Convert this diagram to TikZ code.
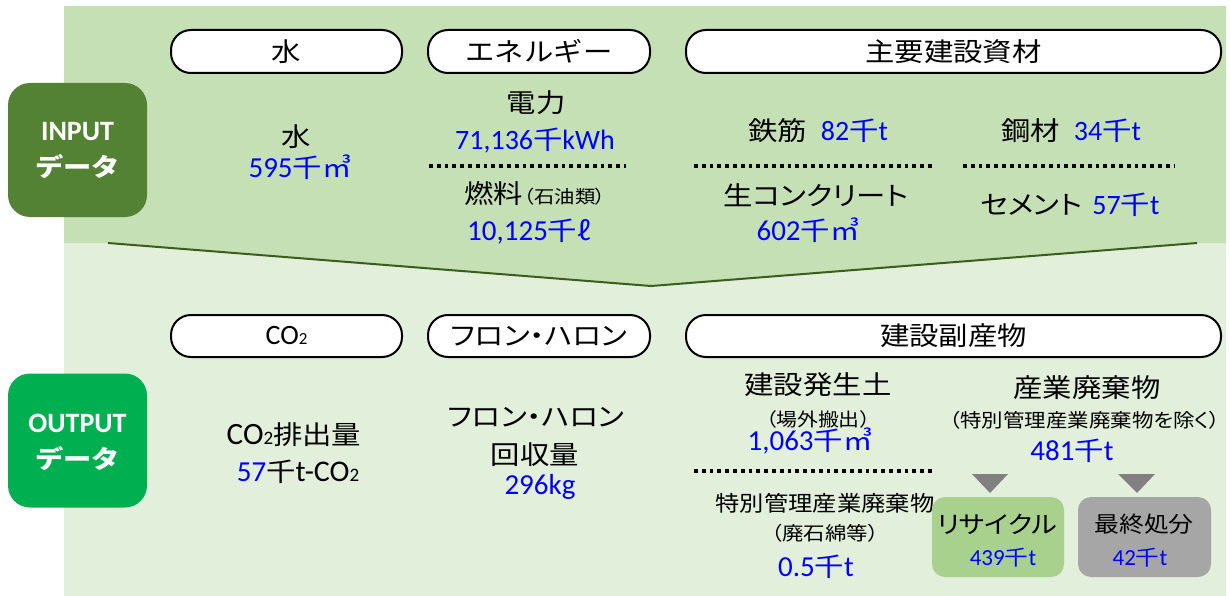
\documentclass[tikz,border=0pt]{standalone}
\usepackage{fontspec}
\setmainfont{Carlito}
\newfontfamily\jp{Noto Sans CJK JP}[FakeStretch=1.13]
\newfontfamily\jpk{Noto Sans CJK JP}[FakeStretch=1.13,RawFeature=+palt]
\newcommand\fs[1]{\fontsize{#1}{#1}\selectfont}
\newcommand\J[2]{{\jp\fs{#1}#2}}
\newcommand\K[2]{{\jpk\fs{#1}#2}}
\newcommand\Lt[2]{{\fs{#1}#2}}
\definecolor{upg}{HTML}{C5E0B4}
\definecolor{lowg}{HTML}{E2EFDA}
\definecolor{lineg}{HTML}{3B5E1F}
\definecolor{ing}{HTML}{548235}
\definecolor{outg}{HTML}{00B050}
\definecolor{recg}{HTML}{A9D18E}
\definecolor{disg}{HTML}{A6A6A6}
\definecolor{trig}{HTML}{808080}
\definecolor{vb}{HTML}{0000FF}
\tikzset{
  t/.style={inner sep=0pt, outer sep=0pt, anchor=center},
  bt/.style={t, text=vb},
  pill/.style={draw=black, fill=white, line width=2pt, rounded corners=20pt, inner sep=0pt},
  databox/.style={rounded corners=22pt, minimum width=139pt, minimum height=134pt, inner sep=0pt},
  resbox/.style={rounded corners=13pt, minimum width=132pt, minimum height=80pt, inner sep=0pt},
  dotline/.style={line width=3.5pt, dash pattern=on 3.8pt off 4pt},
  wt/.style={t, text=white, font=\bfseries}
}
\begin{document}
\begin{tikzpicture}[x=1pt,y=-1pt]
\useasboundingbox (0,0) rectangle (1230,596);
% backgrounds
\fill[lowg] (64,243) rectangle (1226,596);
\fill[upg] (64,6) -- (1226,6) -- (1226,243) -- (1197,243) -- (651,286) -- (108,243) -- (64,243) -- cycle;
\draw[lineg, line width=2pt] (108,243) -- (651,286) -- (1197,243);
% side boxes
\node[databox, fill=ing] (inbox) at (77.5,150) {};
\node[wt] (inl1) at (77.5,132) {\Lt{28}{INPUT}};
\node[wt] (inl2) at (77.5,167) {\J{25}{\bfseries データ}};
\node[databox, fill=outg] (outbox) at (77.5,440.5) {};
\node[wt] (outl1) at (77.5,423) {\Lt{28}{OUTPUT}};
\node[wt] (outl2) at (77.5,459) {\J{25}{\bfseries データ}};
% header pills (input)
\node[pill, minimum width=231pt, minimum height=43pt] (hwater) at (286.5,51.5) {\J{26}{水}};
\node[pill, minimum width=222pt, minimum height=43pt] (henergy) at (539,51.5) {\J{26}{エネルギー}};
\node[pill, minimum width=535pt, minimum height=43pt] (hmat) at (953.5,51.5) {\J{26}{主要建設資材}};
% header pills (output)
\node[pill, minimum width=231pt, minimum height=42pt] (hco2) at (286.5,336) {\Lt{28}{CO\Lt{17}{2}}};
\node[pill, minimum width=222pt, minimum height=42pt] (hfreon) at (539,336) {\K{26}{フロン・ハロン}};
\node[pill, minimum width=535pt, minimum height=42pt] (hbyp) at (953.5,336) {\J{26}{建設副産物}};
% input contents
\node[t] (water) at (296,137) {\J{26}{水}};
\node[bt] (waterv) at (300,167) {\Lt{29}{595}\J{26}{千㎥}};
\node[t] (elec) at (536,103) {\J{26}{電力}};
\node[bt] (elecv) at (535,141) {\Lt{28}{71,136}\J{26}{千}\Lt{28}{kWh}};
\draw[dotline] (429,166) -- (626,166);
\node[t] (fuel) at (535,194) {\J{26}{燃料}\hspace{1pt}\K{18}{（石油類）}};
\node[bt] (fuelv) at (529,232) {\Lt{29}{10,125}\J{26}{千ℓ}};
\node[t] (rebar) at (818,131) {\J{26}{鉄筋}\hspace{14pt}\textcolor{vb}{\Lt{28}{82}\J{26}{千}\Lt{28}{t}}};
\node[t] (steel) at (1071,131) {\J{26}{鋼材}\hspace{14pt}\textcolor{vb}{\Lt{28}{34}\J{26}{千}\Lt{28}{t}}};
\draw[dotline] (694,166) -- (934,166);
\draw[dotline] (963,166) -- (1174,166);
\node[t] (conc) at (816,195) {\K{26}{生コンクリート}};
\node[bt] (concv) at (808,230) {\Lt{29}{602}\J{26}{千㎥}};
\node[t] (cement) at (1070,205) {\K{26}{セメント}\hspace{10pt}\textcolor{vb}{\Lt{28}{57}\J{26}{千}\Lt{28}{t}}};
% output contents
\node[t] (co2) at (294,435) {\Lt{31}{CO\Lt{19}{2}}\J{26}{排出量}};
\node[t] (co2v) at (298,472) {\textcolor{vb}{\Lt{29}{57}}\J{26}{千}\Lt{30}{t-CO\Lt{19}{2}}};
\node[t] (freon) at (536,417) {\K{26}{フロン・ハロン}};
\node[t] (freon2) at (535,455) {\J{26}{回収量}};
\node[bt] (freonv) at (540,487) {\Lt{29}{296kg}};
\node[t] (soil) at (818,385) {\J{26}{建設発生土}};
\node[t] (soil2) at (818,419) {\K{18.5}{（場外搬出）}};
\node[bt] (soilv) at (810,441) {\Lt{29}{1,063}\J{26}{千㎥}};
\draw[dotline] (694,471) -- (934,471);
\node[t] (spec) at (825,503) {\J{21.5}{特別管理産業廃棄物}};
\node[t] (spec2) at (825,533) {\K{19}{（廃石綿等）}};
\node[bt] (specv) at (816,567) {\Lt{29}{0.5}\J{26}{千}\Lt{29}{t}};
\node[t] (ind) at (1087,388) {\J{26}{産業廃棄物}};
\node[t] (ind2) at (1085,420) {\K{19}{（特別管理産業廃棄物を除く）}};
\node[bt] (indv) at (1072,451) {\Lt{29}{481}\J{26}{千}\Lt{29}{t}};
% arrows (triangles)
\fill[trig] (972,474) -- (1008,474) -- (990,493) -- cycle;
\fill[trig] (1118,474) -- (1155,474) -- (1137,493) -- cycle;
% result boxes
\node[resbox, fill=recg] (rec) at (998,537) {};
\node[t] (recl) at (997,524) {\K{24}{リサイクル}};
\node[bt] (recv) at (1003,558) {\Lt{23}{439}\J{21}{千}\Lt{23}{t}};
\node[resbox, fill=disg, minimum width=133pt] (dis) at (1144.5,537) {};
\node[t] (disl) at (1144,524) {\J{22}{最終処分}};
\node[bt] (disv) at (1140,558) {\Lt{23}{42}\J{21}{千}\Lt{23}{t}};
\end{tikzpicture}
\end{document}
